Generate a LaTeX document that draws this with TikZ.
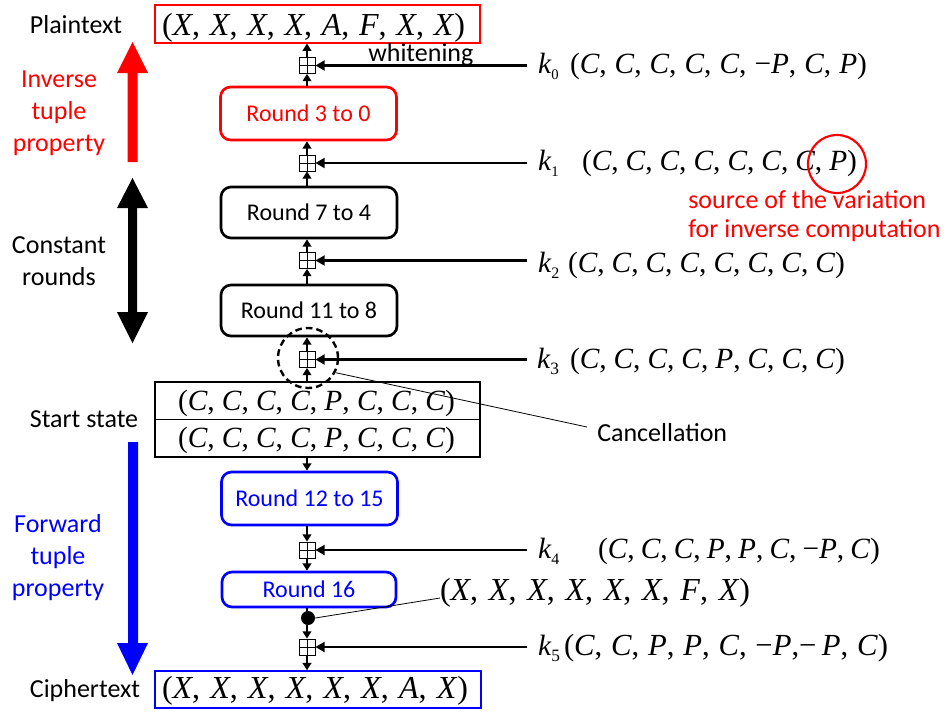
\documentclass[tikz,border=0pt]{standalone}
\usepackage{fontspec}
\setmainfont{Carlito}
\newfontfamily\tms{Liberation Serif}
\usetikzlibrary{arrows.meta}
\definecolor{rred}{RGB}{255,0,0}
\definecolor{bblue}{RGB}{0,0,255}
\newcommand\I[1]{\textit{#1}}
\newcommand\tupbox[3][22]{{\tms\fontsize{#1}{26}\selectfont\makebox[#2][s]{#3}}}
\newcommand\klab[2]{{\tms\fontsize{22}{26}\selectfont\textit{k}\raisebox{-4.5pt}{\fontsize{#2}{#2}\selectfont #1}}}
\begin{document}
\begin{tikzpicture}[x=0.75pt,y=-0.75pt,
  xor/.style={draw, line width=0.6pt, minimum size=12pt, inner sep=0pt,
    path picture={\draw[line width=0.6pt] (path picture bounding box.north) -- (path picture bounding box.south)
      (path picture bounding box.west) -- (path picture bounding box.east);}},
  rbox/.style={draw, rounded corners=7.5pt, line width=2pt, minimum width=132pt, inner sep=0pt,
    font=\fontsize{18}{22}\selectfont},
  sbox/.style={draw, minimum width=243.75pt, inner sep=0pt},
  tup/.style={inner sep=0pt, outer sep=0pt},
  lab/.style={inner sep=0pt, font=\fontsize{19.5}{24}\selectfont},
  varr/.style={line width=1.5pt, -{Triangle[length=5.5pt,width=6.5pt]}},
  karr/.style={line width=2.2pt, -{Triangle[length=7pt,width=7.5pt]}}
]
\useasboundingbox (0,0) rectangle (948,711);

% plaintext box
\node[sbox, draw=rred, line width=0.8pt, minimum height=28.5pt] (pbox) at (317.5,24) {};
\node[tup, anchor=base west] (ptxt) at (162,35) {\tupbox[24]{227.25pt}{(\I{X},\hfill\I{X},\hfill\I{X},\hfill\I{X},\hfill\I{A},\hfill\I{F},\hfill\I{X},\hfill\I{X})}};

% xors
\node[xor] (x0) at (307,65.5) {};
\node[xor] (x1) at (307,163) {};
\node[xor] (x2) at (307,260.5) {};
\node[xor] (x3) at (307,359.5) {};
\node[xor] (x4) at (307,550) {};
\node[xor] (x5) at (307,647) {};

% round boxes
\node[rbox, draw=rred, text=rred, minimum height=39.75pt] (r30) at (308.5,113.5) {Round 3 to 0};
\node[rbox, minimum height=38.25pt] (r74) at (309,212.5) {Round 7 to 4};
\node[rbox, minimum height=38.25pt] (r118) at (309,310.5) {Round 11 to 8};
\node[rbox, draw=bblue, text=bblue, minimum height=39.75pt] (r1215) at (309.5,498.5) {Round 12 to 15};
\node[rbox, draw=bblue, text=bblue, minimum width=130.5pt, minimum height=26.25pt] (r16) at (309,589.5) {Round 16};

% start state
\node[sbox, line width=0.8pt, minimum height=28.1pt] (ss1) at (317.5,400.75) {};
\node[sbox, line width=0.8pt, minimum height=28.1pt] (ss2) at (317.5,438.25) {};
\node[tup, anchor=base west] (s1t) at (178,410) {\tupbox{207.75pt}{(\I{C},\hfill\I{C},\hfill\I{C},\hfill\I{C},\hfill\I{P},\hfill\I{C},\hfill\I{C},\hfill\I{C})}};
\node[tup, anchor=base west] (s2t) at (178,447) {\tupbox{207.75pt}{(\I{C},\hfill\I{C},\hfill\I{C},\hfill\I{C},\hfill\I{P},\hfill\I{C},\hfill\I{C},\hfill\I{C})}};

% ciphertext
\node[sbox, draw=bblue, line width=1.1pt, minimum width=244.5pt, minimum height=27.75pt] (cbox) at (318,689.5) {};
\node[tup, anchor=base west] (ctxt) at (162,698) {\tupbox[24]{229.5pt}{(\I{X},\hfill\I{X},\hfill\I{X},\hfill\I{X},\hfill\I{X},\hfill\I{X},\hfill\I{A},\hfill\I{X})}};

% dot
\node[circle, fill=black, inner sep=0pt, minimum size=10.5pt] (dot) at (308,618) {};

% vertical connectors
\draw[varr] (x0.north) -- (x0.north |- pbox.south);
\draw[varr] (x0.south |- r30.north) -- (x0.south);
\draw[varr] (x1.north) -- (x1.north |- r30.south);
\draw[varr] (x1.south |- r74.north) -- (x1.south);
\draw[varr] (x2.north) -- (x2.north |- r74.south);
\draw[varr] (x2.south |- r118.north) -- (x2.south);
\draw[varr] (x3.north) -- (x3.north |- r118.south);
\draw[varr] (x3.south |- ss1.north) -- (x3.south);
\draw[varr] (x3.south |- ss2.south) -- (x3.south |- r1215.north);
\draw[varr] (x4.north |- r1215.south) -- (x4.north);
\draw[varr] (x4.south) -- (x4.south |- r16.north);
\draw[line width=1.5pt] (x5.north |- r16.south) -- (x5.north |- dot.center);
\draw[varr] (x5.north |- dot.south) -- (x5.north);
\draw[varr] (x5.south) -- (x5.south |- cbox.north);

% key arrows
\coordinate (k0s) at (527,65.5);
\coordinate (k1s) at (527,163);
\coordinate (k2s) at (527,260.5);
\coordinate (k3s) at (527,359.5);
\coordinate (k4s) at (527,550);
\coordinate (k5s) at (527,647);
\draw[karr] (k0s) -- (x0.east);
\draw[karr] (k1s) -- (x1.east);
\draw[karr] (k2s) -- (x2.east);
\draw[karr] (k3s) -- (x3.east);
\draw[karr] (k4s) -- (x4.east);
\draw[karr] (k5s) -- (x5.east);

% key labels
\node[tup, anchor=base west] (k0) at (538,73) {\klab{0}{11}};
\node[tup, anchor=base west] (k1) at (538,170) {\klab{1}{11}};
\node[tup, anchor=base west] (k2) at (538,272) {\klab{2}{12}};
\node[tup, anchor=base west] (k3) at (537,368) {\klab{3}{13}};
\node[tup, anchor=base west] (k4) at (538,558) {\klab{4}{12}};
\node[tup, anchor=base west] (k5) at (538,655) {\klab{5}{13}};

\node[tup, anchor=base west] (t0) at (570,73) {\tupbox{222.75pt}{(\I{C},\hfill\I{C},\hfill\I{C},\hfill\I{C},\hfill\I{C},\hfill−\I{P},\hfill\I{C},\hfill\I{P})}};
\node[tup, anchor=base west] (t1) at (582,170) {\tupbox{206.25pt}{(\I{C},\hfill\I{C},\hfill\I{C},\hfill\I{C},\hfill\I{C},\hfill\I{C},\hfill\I{C},\hfill\I{P})}};
\node[tup, anchor=base west] (t2) at (568,272) {\tupbox{207.75pt}{(\I{C},\hfill\I{C},\hfill\I{C},\hfill\I{C},\hfill\I{C},\hfill\I{C},\hfill\I{C},\hfill\I{C})}};
\node[tup, anchor=base west] (t3) at (570,368) {\tupbox{206.25pt}{(\I{C},\hfill\I{C},\hfill\I{C},\hfill\I{C},\hfill\I{P},\hfill\I{C},\hfill\I{C},\hfill\I{C})}};
\node[tup, anchor=base west] (t4) at (598,558) {\tupbox{211.5pt}{(\I{C},\hfill\I{C},\hfill\I{C},\hfill\I{P},\hfill\I{P},\hfill\I{C},\hfill−\I{P},\hfill\I{C})}};
\node[tup, anchor=base west] (t5) at (564,655) {\tupbox[23]{243pt}{(\I{C},\hfill\I{C},\hfill\I{P},\hfill\I{P},\hfill\I{C},\hfill−\I{P},−\hspace{4pt}\I{P},\hfill\I{C})}};

% X F X tuple and its callout
\node[tup, anchor=base west] (xfx) at (440,600) {\tupbox[24]{232.5pt}{(\I{X},\hfill\I{X},\hfill\I{X},\hfill\I{X},\hfill\I{X},\hfill\I{X},\hfill\I{F},\hfill\I{X})}};
\draw[line width=0.6pt] (dot.east) -- ([yshift=1.5pt]xfx.base west);

% whitening
\node[lab, anchor=base west] (wh) at (368,61) {whitening};

% red circle and note
\node[circle, draw=rred, line width=1.6pt, minimum size=43.5pt, inner sep=0pt] (rc) at (837,164) {};
\node[lab, anchor=base west, text=rred] (src1) at (688,208) {source of the variation};
\node[lab, anchor=base west, text=rred] (src2) at (688,237) {for inverse computation};

% cancellation
\node[circle, draw, dashed, dash pattern=on 5pt off 3pt, line width=1.8pt, minimum size=45pt, inner sep=0pt] (dc) at (308,358) {};
\coordinate (cend) at (587,427);
\node[lab, anchor=base west] (canc) at (597,441) {Cancellation};
\draw[line width=0.6pt] (dc.-28) -- (cend);

% left labels
\node[lab, anchor=base] (plab) at (76,33) {Plaintext};
\node[lab, anchor=base, text=rred] (inv1) at (59,87) {Inverse};
\node[lab, anchor=base, text=rred] (inv2) at (59,119) {tuple};
\node[lab, anchor=base, text=rred] (inv3) at (59,151) {property};
\node[lab, anchor=base] (con1) at (59,253) {Constant};
\node[lab, anchor=base] (con2) at (59,285) {rounds};
\node[lab, anchor=base] (slab) at (84,427) {Start state};
\node[lab, anchor=base, text=bblue] (fw1) at (58,532) {Forward};
\node[lab, anchor=base, text=bblue] (fw2) at (58,564) {tuple};
\node[lab, anchor=base, text=bblue] (fw3) at (58,596) {property};
\node[lab, anchor=base] (clab) at (85,697) {Ciphertext};

% big arrows
\fill[rred] (127.5,162) -- (127.5,73) -- (117,73) -- (132.5,42) -- (148,73) -- (137.5,73) -- (137.5,162) -- cycle;
\fill[black] (128,208) -- (117,208) -- (132.5,178) -- (148,208) -- (137,208) -- (137,312) -- (148,312) -- (132.5,343) -- (117,312) -- (128,312) -- cycle;
\fill[bblue] (128,442) -- (138,442) -- (138,643) -- (148,643) -- (132.5,675) -- (117,643) -- (128,643) -- cycle;
\end{tikzpicture}
\end{document}
